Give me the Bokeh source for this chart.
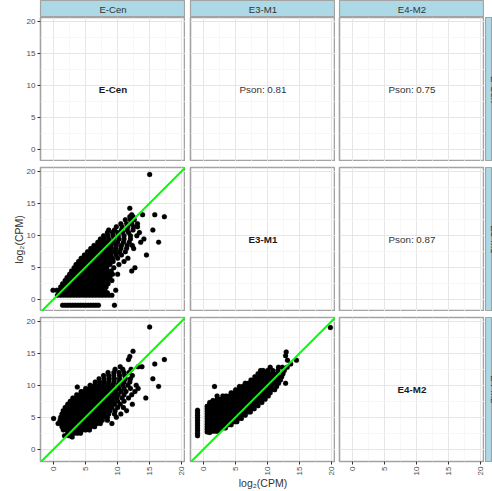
import math
from bokeh.plotting import figure
from bokeh.layouts import gridplot
from bokeh.models import Range1d, FixedTicker, Label, Slope
from bokeh.embed import file_html
from bokeh.resources import INLINE

# ---------------- data ----------------
variables = ["E-Cen", "E3-M1", "E4-M2"]
pearson_labels = {(0, 1): "Pson: 0.81", (0, 2): "Pson: 0.75", (1, 2): "Pson: 0.87"}
tick_values = [0, 5, 10, 15, 20]
minor_tick_values = [-2.5, 2.5, 7.5, 12.5, 17.5]
axis_title = "log\u2082(CPM)"

# E-Cen (x) vs E3-M1 (y): rows of (y, [x ...])
ecen_e3m1_rows = [
    (-0.95, [1.4, 1.8, 2.2, 2.6, 3.0, 3.4, 3.8, 4.2, 4.6, 5.0, 5.4, 5.8, 6.2, 6.6, 7.0, 9.5]),
    (0.6, [0.6, 1.1, 1.6, 2.1, 2.6, 3.1, 3.6, 4.1, 4.6, 5.1, 5.6, 6.1, 6.6, 7.1, 7.6, 8.1, 8.6, 9.1]),
    (1.0, [0.9, 1.4, 1.9, 2.4, 2.9, 3.4, 3.9, 4.4, 4.9, 5.4, 5.9, 6.4, 6.9, 7.4, 7.9, 8.4]),
    (1.4, [-0.1, 0.5, 1.0, 1.5, 2.0, 2.5, 3.0, 3.5, 4.0, 4.5, 5.0, 5.5, 6.0, 6.5, 7.0, 7.5, 8.0, 9.7]),
    (1.9, [1.1, 1.6, 2.1, 2.6, 3.1, 3.6, 4.1, 4.6, 5.1, 5.6, 6.1, 6.6, 7.1, 7.6, 8.2]),
    (2.4, [1.4, 1.9, 2.4, 2.9, 3.4, 3.9, 4.4, 4.9, 5.4, 5.9, 6.4, 6.9, 7.4, 7.9, 8.5]),
    (2.9, [1.8, 2.3, 2.8, 3.3, 3.8, 4.3, 4.8, 5.3, 5.8, 6.3, 6.8, 7.3, 7.8, 8.4, 9.1]),
    (3.4, [2.1, 2.6, 3.1, 3.6, 4.1, 4.6, 5.1, 5.6, 6.1, 6.6, 7.1, 7.6, 8.2, 8.8]),
    (3.9, [2.5, 3.0, 3.5, 4.0, 4.5, 5.0, 5.5, 6.0, 6.5, 7.0, 7.5, 8.0, 8.6, 9.2, 10.0]),
    (4.4, [2.8, 3.3, 3.8, 4.3, 4.8, 5.3, 5.8, 6.3, 6.8, 7.3, 7.8, 8.4, 9.0, 12.2]),
    (4.9, [3.2, 3.7, 4.2, 4.7, 5.2, 5.7, 6.2, 6.7, 7.2, 7.7, 8.3, 9.4, 12.7]),
    (5.4, [3.5, 4.0, 4.5, 5.0, 5.5, 6.0, 6.5, 7.0, 7.5, 8.1, 8.8, 10.2]),
    (5.9, [3.9, 4.4, 4.9, 5.4, 5.9, 6.4, 6.9, 7.4, 8.0, 8.6, 9.3, 11.0]),
    (6.4, [4.3, 4.8, 5.3, 5.8, 6.3, 6.8, 7.3, 7.9, 8.5, 9.2, 10.0, 11.6]),
    (6.9, [4.8, 5.3, 5.8, 6.3, 6.8, 7.3, 7.8, 8.4, 9.0, 9.8, 10.6, 14.5]),
    (7.4, [5.3, 5.8, 6.3, 6.8, 7.3, 7.8, 8.3, 8.9, 9.6, 10.3, 11.2]),
    (7.9, [5.8, 6.3, 6.8, 7.3, 7.8, 8.4, 9.0, 9.7, 10.5, 11.4, 12.5]),
    (8.4, [6.3, 6.8, 7.3, 7.8, 8.4, 9.0, 9.8, 10.6, 11.5, 12.3]),
    (8.9, [6.9, 7.4, 8.0, 8.6, 9.3, 10.0, 10.9, 11.8, 13.6, 16.4]),
    (9.4, [7.3, 7.9, 8.6, 9.4, 10.2, 11.0, 12.0, 14.1]),
    (9.9, [7.8, 8.5, 9.3, 10.1, 11.0, 12.0, 13.0]),
    (10.4, [8.4, 9.2, 10.0, 10.8, 11.7, 13.4]),
    (10.8, [8.6, 9.5, 10.6, 11.5, 12.4, 15.5]),
    (11.3, [9.8, 10.7, 11.6, 12.5, 13.1]),
    (11.8, [10.5, 11.4, 12.2, 13.1]),
    (12.4, [11.2, 12.0, 12.6]),
    (12.9, [11.9, 12.4, 17.3]),
    (13.2, [12.2, 13.9, 15.8]),
    (14.2, [11.9]),
    (19.5, [15.0]),
]

# E-Cen (x) vs E4-M2 (y): rows of (y, [x ...])
ecen_e4m2_rows = [
    (1.9, [2.9]),
    (2.1, [1.7, 2.4]),
    (2.5, [2.2, 2.7, 3.2, 3.7, 4.2]),
    (3.0, [1.5, 2.0, 2.5, 3.0, 3.5, 4.0, 4.5, 5.0, 5.6]),
    (3.5, [1.3, 1.8, 2.3, 2.8, 3.3, 3.8, 4.3, 4.8, 5.3, 5.8, 6.4]),
    (4.0, [0.7, 1.2, 1.7, 2.2, 2.7, 3.2, 3.7, 4.2, 4.7, 5.2, 5.7, 6.2, 6.8, 7.3, 9.1]),
    (4.5, [1.0, 1.5, 2.0, 2.5, 3.0, 3.5, 4.0, 4.5, 5.0, 5.5, 6.0, 6.5, 7.0, 7.6, 8.4]),
    (4.8, [0.0]),
    (5.0, [1.1, 1.6, 2.1, 2.6, 3.1, 3.6, 4.1, 4.6, 5.1, 5.6, 6.1, 6.6, 7.1, 7.7, 8.4, 9.8]),
    (5.5, [1.3, 1.8, 2.3, 2.8, 3.3, 3.8, 4.3, 4.8, 5.3, 5.8, 6.3, 6.8, 7.3, 7.9, 8.6, 9.5, 10.5]),
    (6.0, [1.5, 2.0, 2.5, 3.0, 3.5, 4.0, 4.5, 5.0, 5.5, 6.0, 6.5, 7.0, 7.5, 8.1, 8.8, 9.6, 11.4]),
    (6.5, [1.8, 2.3, 2.8, 3.3, 3.8, 4.3, 4.8, 5.3, 5.8, 6.3, 6.8, 7.3, 7.8, 8.4, 9.1, 10.0, 10.9]),
    (7.0, [2.2, 2.7, 3.2, 3.7, 4.2, 4.7, 5.2, 5.7, 6.2, 6.7, 7.2, 7.7, 8.2, 8.8, 9.5, 10.4, 12.3]),
    (7.5, [2.6, 3.1, 3.6, 4.1, 4.6, 5.1, 5.6, 6.1, 6.6, 7.1, 7.6, 8.1, 8.7, 9.3, 10.0, 11.0]),
    (8.0, [3.0, 3.5, 4.0, 4.5, 5.0, 5.5, 6.0, 6.5, 7.0, 7.5, 8.0, 8.6, 9.2, 9.9, 10.7, 11.7, 14.4]),
    (8.5, [3.6, 4.1, 4.6, 5.1, 5.6, 6.1, 6.6, 7.1, 7.6, 8.1, 8.7, 9.4, 10.1, 11.0, 12.2]),
    (9.0, [4.3, 4.8, 5.3, 5.8, 6.3, 6.8, 7.3, 7.8, 8.4, 9.0, 9.7, 10.5, 11.3, 12.7]),
    (9.5, [5.0, 5.6, 6.2, 6.8, 7.4, 8.0, 8.7, 9.4, 10.2, 11.0, 12.0, 13.2]),
    (9.7, [3.7]),
    (9.8, [16.4]),
    (10.0, [5.7, 6.4, 7.1, 7.8, 8.5, 9.2, 10.0, 10.8, 11.6, 12.9]),
    (10.5, [6.5, 7.2, 7.9, 8.6, 9.4, 10.2, 11.0, 11.9]),
    (11.0, [7.1, 7.9, 8.7, 9.5, 10.3, 11.2, 12.0, 15.5]),
    (11.5, [7.8, 8.6, 9.4, 10.3, 11.1, 12.3]),
    (12.0, [8.5, 9.4, 10.2, 11.0, 11.8]),
    (12.5, [9.6, 10.8, 12.1]),
    (12.9, [10.4, 13.2, 13.8]),
    (13.3, [15.8]),
    (14.0, [17.3, 11.7]),
    (14.5, [11.9]),
    (15.3, [12.4]),
    (19.1, [15.0]),
]

# E3-M1 (x) vs E4-M2 (y): vertical bands (x, [y ...]) and rows (y, [x ...])
e3m1_e4m2_cols = [
    (-0.95, [2.1, 2.5, 2.9, 3.3, 3.7, 4.1, 4.5, 4.9, 5.3, 5.7, 6.1]),
    (0.55, [2.7, 3.1, 3.5, 3.9, 4.3, 4.7, 5.1, 5.5, 5.9, 6.3, 6.7]),
    (0.95, [2.6, 3.0, 3.4, 3.8, 4.2, 4.6, 5.0, 5.4, 5.8, 6.2, 6.6, 7.0, 7.3]),
    (1.45, [2.8, 3.2, 3.6, 4.0, 4.4, 4.8, 5.2, 5.6, 6.0, 6.4, 6.8, 7.2, 7.6]),
]
e3m1_e4m2_rows = [
    (2.8, [1.9, 2.3]),
    (3.3, [1.9, 2.4, 2.9, 3.4]),
    (3.8, [1.9, 2.4, 2.9, 3.4, 3.9, 4.3]),
    (4.3, [1.9, 2.4, 2.9, 3.4, 3.9, 4.4, 4.9, 5.2]),
    (4.8, [1.9, 2.4, 2.9, 3.4, 3.9, 4.4, 4.9, 5.4, 5.9]),
    (5.3, [1.9, 2.4, 2.9, 3.4, 3.9, 4.4, 4.9, 5.4, 5.9, 6.5]),
    (5.8, [1.9, 2.4, 2.9, 3.4, 3.9, 4.4, 4.9, 5.4, 5.9, 6.4, 6.9, 7.3]),
    (6.3, [1.9, 2.4, 2.9, 3.4, 3.9, 4.4, 4.9, 5.4, 5.9, 6.4, 6.9, 7.4, 7.9]),
    (6.8, [1.9, 2.4, 2.9, 3.4, 3.9, 4.4, 4.9, 5.4, 5.9, 6.4, 6.9, 7.4, 7.9, 8.5]),
    (7.3, [1.9, 2.4, 2.9, 3.4, 3.9, 4.4, 4.9, 5.4, 5.9, 6.4, 6.9, 7.4, 7.9, 8.4, 9.1]),
    (7.8, [2.1, 2.6, 3.1, 3.6, 4.1, 4.6, 5.1, 5.6, 6.1, 6.6, 7.1, 7.6, 8.1, 8.6, 9.1, 9.6]),
    (8.3, [2.1, 3.0, 3.5, 4.0, 4.5, 5.0, 5.5, 6.0, 6.5, 7.0, 7.5, 8.0, 8.5, 9.0, 9.5, 10.1]),
    (8.8, [4.3, 4.8, 5.3, 5.8, 6.3, 6.8, 7.3, 7.8, 8.3, 8.8, 9.3, 9.8, 10.4]),
    (9.3, [5.0, 5.5, 6.0, 6.5, 7.0, 7.5, 8.0, 8.5, 9.0, 9.5, 10.0, 10.5, 11.1]),
    (9.8, [1.7, 5.6, 6.1, 6.6, 7.1, 7.6, 8.1, 8.6, 9.1, 9.6, 10.1, 10.6, 11.4]),
    (10.3, [6.5, 7.0, 7.5, 8.0, 8.5, 9.0, 9.5, 10.0, 10.5, 11.0, 11.7, 12.8]),
    (10.8, [7.4, 7.9, 8.4, 8.9, 9.4, 9.9, 10.4, 10.9, 11.4, 12.0]),
    (11.3, [8.0, 8.6, 9.2, 9.8, 10.4, 11.0, 11.6, 12.2]),
    (11.8, [8.5, 9.1, 9.7, 10.3, 10.9, 11.5, 12.4]),
    (12.3, [8.9, 9.3, 10.0, 10.8, 11.6, 12.6]),
    (12.8, [10.4, 11.7, 12.3, 13.05]),
    (13.3, [13.6]),
    (13.9, [14.5, 13.1]),
    (14.6, [12.8]),
    (15.2, [12.9]),
    (19.0, [19.8]),
]


def from_rows(rows):
    xs, ys = [], []
    for yv, xl in rows:
        xs += xl
        ys += [yv] * len(xl)
    return xs, ys


def from_cols(cols):
    xs, ys = [], []
    for xv, yl in cols:
        xs += [xv] * len(yl)
        ys += yl
    return xs, ys


a_x, a_y = from_rows(ecen_e3m1_rows)
b_x, b_y = from_rows(ecen_e4m2_rows)
c1x, c1y = from_cols(e3m1_e4m2_cols)
c2x, c2y = from_rows(e3m1_e4m2_rows)
scatter_data = {(1, 0): (a_x, a_y), (2, 0): (b_x, b_y), (2, 1): (c1x + c2x, c1y + c2y)}

# ---------------- style / layout ----------------
FONT = "Liberation Sans"
XLO, XHI = -2.05, 20.6
YLO, YHI = -1.93, 20.58
XMID, YMID = (XLO + XHI) / 2, (YLO + YHI) / 2
FW, FH, STRIP = 145, 144, 17
LEFT = [40, 5, 4]
TOP = [0, 6, 6]
BOTTOM = [0, 0, 30]
BORDER = "#A3A3A3"
STRIP_FILL = "#ADD8E6"


def panel(r, c):
    p = figure(frame_width=FW, frame_height=FH,
               x_range=Range1d(XLO, XHI), y_range=Range1d(YLO, YHI),
               x_axis_location="below" if r == 2 else None,
               y_axis_location="left" if c == 0 else None,
               toolbar_location=None, output_backend="svg",
               min_border_left=LEFT[c], min_border_right=0,
               min_border_top=TOP[r], min_border_bottom=BOTTOM[r],
               background_fill_color="white", border_fill_color="white",
               outline_line_color=BORDER, outline_line_width=1.6)
    for g in (p.xgrid, p.ygrid):
        g.ticker = FixedTicker(ticks=tick_values, minor_ticks=minor_tick_values)
        g.grid_line_color = "#E6E6E6"
        g.grid_line_width = 1
        g.minor_grid_line_color = "#F3F3F3"
        g.minor_grid_line_width = 0.7
    for ax in list(p.xaxis) + list(p.yaxis):
        ax.ticker = FixedTicker(ticks=tick_values)
        ax.axis_line_color = None
        ax.major_tick_out = 3
        ax.major_tick_in = 0
        ax.major_tick_line_color = "#333333"
        ax.minor_tick_line_color = None
        ax.major_label_standoff = 2
        ax.major_label_text_font = FONT
        ax.major_label_text_font_size = "8px"
        ax.major_label_text_color = "#4D4D4D"
        ax.axis_label_text_font = FONT
        ax.axis_label_text_font_size = "10.5px"
        ax.axis_label_text_font_style = "normal"
        ax.axis_label_text_color = "#333333"
        ax.axis_label_standoff = -1
    if r == 2:
        p.xaxis.major_label_orientation = math.pi / 2
    if r == 1 and c == 0:
        p.yaxis.axis_label = axis_title
    if r == 2 and c == 1:
        p.xaxis.axis_label = axis_title
    if r == c:
        p.add_layout(Label(x=XMID, y=YMID, text=variables[r], text_align="center",
                           text_baseline="middle", text_font=FONT, text_font_size="9.8px",
                           text_font_style="bold", text_color="#1A1A1A"))
    elif r < c:
        p.add_layout(Label(x=XMID, y=YMID, text=pearson_labels[(r, c)], text_align="center",
                           text_baseline="middle", text_font=FONT, text_font_size="9.8px",
                           text_color="#333333"))
    else:
        xs, ys = scatter_data[(r, c)]
        p.scatter(xs, ys, size=5, fill_color="black", line_color="black", line_width=0.2)
        p.add_layout(Slope(gradient=1, y_intercept=0, line_color="#00FF00", line_width=2))
    return p


def top_strip(c):
    p = figure(frame_width=FW, frame_height=STRIP, x_range=Range1d(0, 1), y_range=Range1d(0, 1),
               x_axis_location=None, y_axis_location=None, toolbar_location=None,
               output_backend="svg", min_border_left=LEFT[c], min_border_right=0,
               min_border_top=0, min_border_bottom=0,
               background_fill_color=STRIP_FILL, border_fill_color="white",
               outline_line_color=BORDER, outline_line_width=1.2)
    p.grid.visible = False
    p.add_layout(Label(x=0.5, y=0.5, text=variables[c], text_align="center",
                       text_baseline="middle", text_font=FONT, text_font_size="9.6px",
                       text_color="#333333"))
    return p


def right_strip(r):
    p = figure(frame_width=7, frame_height=FH, x_range=Range1d(0, 7), y_range=Range1d(0, 1),
               x_axis_location=None, y_axis_location=None, toolbar_location=None,
               output_backend="svg", min_border_left=1, min_border_right=0,
               min_border_top=TOP[r], min_border_bottom=BOTTOM[r],
               background_fill_color=STRIP_FILL, border_fill_color="white",
               outline_line_color=BORDER, outline_line_width=1.2)
    p.grid.visible = False
    p.add_layout(Label(x=8.5, y=0.5, text=variables[r], angle=-math.pi / 2, text_align="center",
                       text_baseline="middle", text_font=FONT, text_font_size="9.6px",
                       text_color="#333333"))
    return p


children = [[top_strip(c) for c in range(3)] + [None]]
for r in range(3):
    children.append([panel(r, c) for c in range(3)] + [right_strip(r)])

grid = gridplot(children, toolbar_location=None)

with open("out.html", "w") as f:
    f.write(file_html(grid, INLINE))
